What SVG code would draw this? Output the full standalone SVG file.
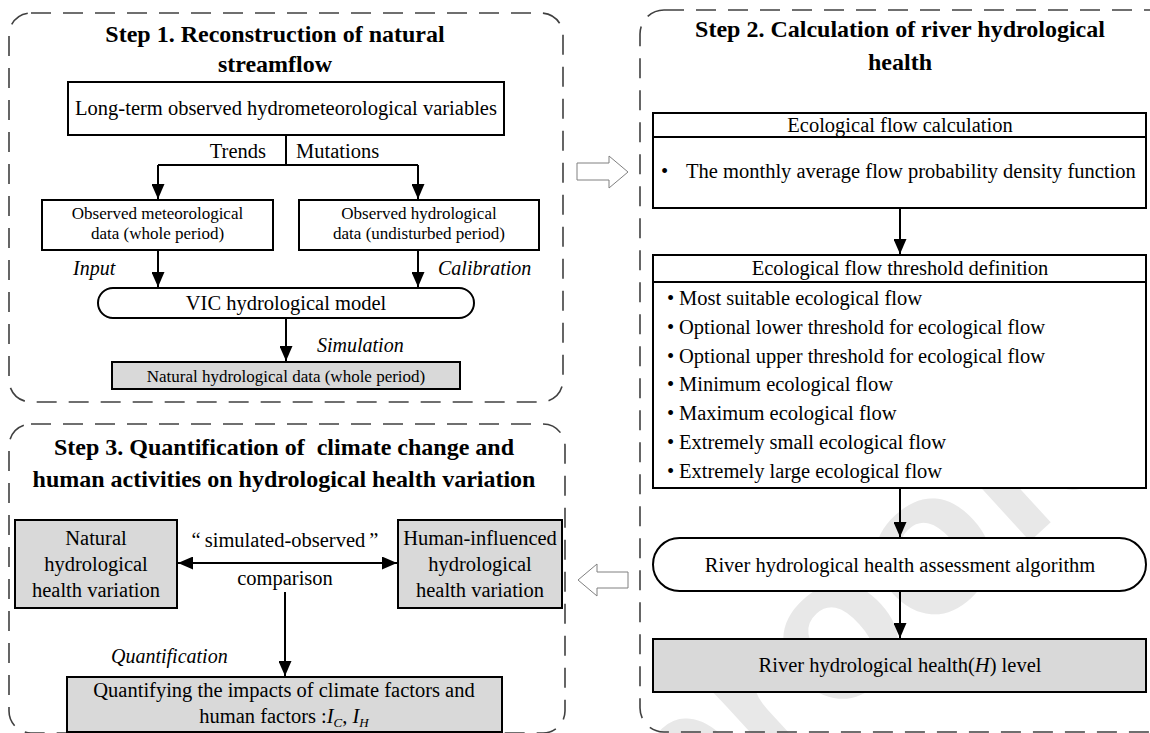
<svg xmlns="http://www.w3.org/2000/svg" width="1150" height="733" viewBox="0 0 1150 733">
<style>
text{font-family:"Liberation Serif","Times New Roman",serif;fill:#000}
.t{font-size:20.5px}
.s{font-size:17px}
.h{font-size:24px;font-weight:bold}
.i{font-style:italic;font-size:20px}
.c{text-anchor:middle}
.panel{fill:none;stroke:#404040;stroke-width:1.6;stroke-dasharray:20 12}
.box{fill:#fff;stroke:#000;stroke-width:2}
.gray{fill:#d9d9d9;stroke:#000;stroke-width:2}
.ln{fill:none;stroke:#000;stroke-width:2}
.hollow{fill:#fff;stroke:#808080;stroke-width:1}
.wm{font-family:"Liberation Sans",Arial,sans-serif;font-size:205px;font-weight:bold;fill:#e8e8e8}
</style>
<defs>
<marker id="ah" viewBox="0 0 15 13" refX="15" refY="6.5" markerWidth="15" markerHeight="13" markerUnits="userSpaceOnUse" orient="auto-start-reverse">
<path d="M0,0 L15,6.5 L0,13 z" fill="#000"/>
</marker>
</defs>
<rect width="1150" height="733" fill="#fff"/>
<text class="wm" x="680" y="862" transform="rotate(-42.5 680 862)">proofs</text>

<g id="panels">
<rect id="panel1" class="panel" x="9" y="13" width="554" height="389" rx="22"/>
<rect id="panel2" class="panel" x="640" y="10" width="540" height="722" rx="24"/>
<rect id="panel3" class="panel" x="9" y="424" width="556" height="309" rx="22"/>
</g>

<g id="titles">
<text class="h c" x="275" y="42">Step 1. Reconstruction of natural</text>
<text class="h c" x="275" y="72">streamflow</text>
<text class="h c" x="900" y="37">Step 2. Calculation of river hydrological</text>
<text class="h c" x="900" y="70">health</text>
<text class="h c" x="284" y="455" xml:space="preserve">Step 3. Quantification of  climate change and</text>
<text class="h c" x="284" y="487">human activities on hydrological health variation</text>
</g>

<g id="connectors">
<path class="ln" d="M286,135 V165 M158,165 H418"/>
<path class="ln" d="M158,165 V199" marker-end="url(#ah)"/>
<path class="ln" d="M418,165 V199" marker-end="url(#ah)"/>
<path class="ln" d="M158,250 V287" marker-end="url(#ah)"/>
<path class="ln" d="M418,250 V287" marker-end="url(#ah)"/>
<path class="ln" d="M286,318 V361" marker-end="url(#ah)"/>
<path class="ln" d="M900,208 V254" marker-end="url(#ah)"/>
<path class="ln" d="M900,488 V537" marker-end="url(#ah)"/>
<path class="ln" d="M900,591 V638" marker-end="url(#ah)"/>
<path class="ln" d="M178,563 H397" marker-start="url(#ah)" marker-end="url(#ah)"/>
<path class="ln" d="M285,592 V676" marker-end="url(#ah)"/>
<polygon id="hollow-right" class="hollow" points="577,163 609,163 609,156 628,172 609,188 609,180 577,180"/>
<polygon id="hollow-left" class="hollow" points="628,572 597,572 597,564 578,580 597,596 597,588 628,588"/>
</g>

<g id="connector-labels">
<text class="t" x="266" y="158" text-anchor="end">Trends</text>
<text class="t" x="296" y="158">Mutations</text>
<text class="i" x="73" y="275">Input</text>
<text class="i" x="438" y="275">Calibration</text>
<text class="i" x="317" y="352">Simulation</text>
<text class="t c" x="285" y="547">“<tspan dx="4">simulated-observed</tspan><tspan dx="4">”</tspan></text>
<text class="t c" x="285" y="585">comparison</text>
<text class="i" x="111" y="663">Quantification</text>
</g>

<g id="n-longterm">
<rect class="box" x="68" y="82" width="436" height="53"/>
<text class="t c" x="286" y="115">Long-term observed hydrometeorological variables</text>
</g>
<g id="n-meteo">
<rect class="box" x="42" y="200" width="231" height="50"/>
<text class="s c" x="157.5" y="219">Observed meteorological</text>
<text class="s c" x="157.5" y="239">data (whole period)</text>
</g>
<g id="n-hydro">
<rect class="box" x="299" y="200" width="240" height="50"/>
<text class="s c" x="419" y="219">Observed hydrological</text>
<text class="s c" x="419" y="239">data (undisturbed period)</text>
</g>
<g id="n-vic">
<rect class="box" x="98" y="288" width="376" height="30" rx="15"/>
<text class="t c" x="286" y="310">VIC hydrological model</text>
</g>
<g id="n-natural-data">
<rect class="gray" x="112" y="362" width="348" height="27"/>
<text class="s c" x="286" y="382">Natural hydrological data (whole period)</text>
</g>

<g id="n-eco-calc">
<rect class="box" x="653" y="113" width="493" height="95"/>
<line class="ln" x1="653" y1="137" x2="1146" y2="137"/>
<text class="t c" x="900" y="132">Ecological flow calculation</text>
<text class="t" x="661" y="178">•<tspan x="686">The monthly average flow probability density function</tspan></text>
</g>
<g id="n-eco-threshold">
<rect class="box" x="653" y="255" width="493" height="233"/>
<line class="ln" x1="653" y1="282" x2="1146" y2="282"/>
<text class="t c" x="900" y="275">Ecological flow threshold definition</text>
<text class="t" x="667" y="305">•<tspan x="679">Most suitable ecological flow</tspan></text>
<text class="t" x="667" y="333.8">•<tspan x="679">Optional lower threshold for ecological flow</tspan></text>
<text class="t" x="667" y="362.6">•<tspan x="679">Optional upper threshold for ecological flow</tspan></text>
<text class="t" x="667" y="391.4">•<tspan x="679">Minimum ecological flow</tspan></text>
<text class="t" x="667" y="420.2">•<tspan x="679">Maximum ecological flow</tspan></text>
<text class="t" x="667" y="449">•<tspan x="679">Extremely small ecological flow</tspan></text>
<text class="t" x="667" y="477.8">•<tspan x="679">Extremely large ecological flow</tspan></text>
</g>
<g id="n-algorithm">
<rect class="box" x="653" y="538" width="493" height="53" rx="26.5"/>
<text class="t c" x="900" y="572">River hydrological health assessment algorithm</text>
</g>
<g id="n-health-level">
<rect class="gray" x="653" y="639" width="493" height="53"/>
<text class="t c" x="900" y="672">River hydrological health(<tspan font-style="italic">H</tspan>) level</text>
</g>

<g id="n-natural-var">
<rect class="gray" x="15" y="520" width="162" height="88"/>
<text class="t c" x="96" y="545">Natural</text>
<text class="t c" x="96" y="571">hydrological</text>
<text class="t c" x="96" y="597">health variation</text>
</g>
<g id="n-human-var">
<rect class="gray" x="398" y="520" width="164" height="88"/>
<text class="t c" x="480" y="545">Human-influenced</text>
<text class="t c" x="480" y="571">hydrological</text>
<text class="t c" x="480" y="597">health variation</text>
</g>
<g id="n-quantify">
<rect class="gray" x="67" y="677" width="435" height="55"/>
<text class="t c" x="284" y="697">Quantifying the impacts of climate factors and</text>
<text class="t c" x="284" y="723">human factors :<tspan font-style="italic">I</tspan><tspan font-style="italic" font-size="13" dy="4">C</tspan><tspan dy="-4">, </tspan><tspan font-style="italic">I</tspan><tspan font-style="italic" font-size="13" dy="4">H</tspan></text>
</g>
</svg>
